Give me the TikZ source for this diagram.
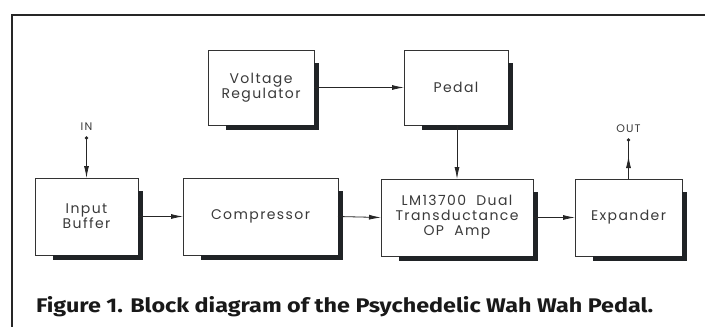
\documentclass[tikz,border=0pt]{standalone}
\usepackage{fontspec}
\setmainfont{Poppins}[LetterSpace=10]
\newfontfamily\capfont{Fira Sans}
\usetikzlibrary{arrows.meta}
\definecolor{ink}{HTML}{3A3A3A}
\definecolor{shadowcol}{HTML}{202326}
\tikzset{
  blk/.style={draw=black!80, line width=0.9pt, fill=white, align=center, outer sep=0pt, inner sep=0pt,
    text=ink, font=\fontsize{14}{15}\selectfont},
  arr/.style={draw=black!85, line width=0.8pt, -{Latex[length=12pt,width=5pt]}},
  pin/.style={text=ink, font=\fontsize{11}{12}\selectfont},
  shadowline/.style={draw=shadowcol, line width=1.2pt, line cap=butt},
  shadowrect/.style={fill=shadowcol, draw=none, inner sep=0pt, outer sep=0pt}
}
% #1 name, #2 left, #3 top, #4 right, #5 bottom, #6 text
\newcommand\blockbox[6]{%
  \node[blk, minimum width={(#4-#2)*1pt}, minimum height={(#5-#3)*1pt}] (#1) at ({(#2+#4)/2},{(#3+#5)/2}) {#6};
  \node[shadowrect, minimum width=5pt, minimum height={(#5-#3-8)*1pt}] (#1r) at ({#4+2.5},{(#3+#5+18)/2}) {};
  \node[shadowrect, minimum width={(#4-#2-13)*1pt}, minimum height=5pt] (#1b) at ({(#2+#4+23)/2},{#5+2.5}) {};
  \foreach \k in {0.5,1.5,2.5,3.5,4.5}{
    \draw[shadowline] ({#4+\k},{#3+13}) -- ({#4+\k},{#5+5});
    \draw[shadowline] ({#2+18},{#5+\k}) -- ({#4+5},{#5+\k});
  }}
\begin{document}
\begin{tikzpicture}[x=1pt,y=-1pt]
\useasboundingbox (0,0) rectangle (705,327);
\fill[white] (0,0) rectangle (705,327);
\draw[line width=2pt, black!85] (12,327) -- (12,14.5) -- (705,14.5);

\blockbox{vr}{208}{50}{314}{125}{Voltage\\Regulator}
\blockbox{pd}{404}{50}{508}{125}{Pedal}
\blockbox{ib}{35}{178}{138}{255}{Input\\Buffer}
\blockbox{cp}{183}{178}{338}{255}{Compressor}
\blockbox{lm}{381}{179}{533}{256}{LM13700 \ Dual\\Transductance\\OP \ Amp}
\blockbox{ex}{575}{179}{682}{256}{Expander}

\draw[arr] (vr.east) -- (pd.west);
\draw[arr] (pd.south -| lm.north) -- (lm.north);
\draw[arr] (ib.east) -- (cp.west);
\draw[arr] (cp.east) -- (lm.west);
\draw[arr] (lm.east) -- (ex.west);

\coordinate (in) at (86.5,138);
\node[pin] (inl) at (86.5,127) {IN};
\fill[black!85] (in) circle (1.8pt);
\draw[arr] (in) -- (ib.north);

\coordinate (out) at (628.5,140);
\coordinate (outtip) at (628.5,156);
\node[pin] (outl) at (628.5,129) {OUT};
\fill[black!85] (out) circle (1.8pt);
\draw[black!85, line width=0.8pt] (ex.north) -- (out);
\draw[arr] (ex.north) -- (outtip);

\node[anchor=base west, inner sep=0pt, text=black!90] (cap) at (36,312)
  {\resizebox{617pt}{16pt}{\capfont\bfseries Figure 1. Block diagram of the Psychedelic Wah Wah Pedal.}};
\end{tikzpicture}
\end{document}
